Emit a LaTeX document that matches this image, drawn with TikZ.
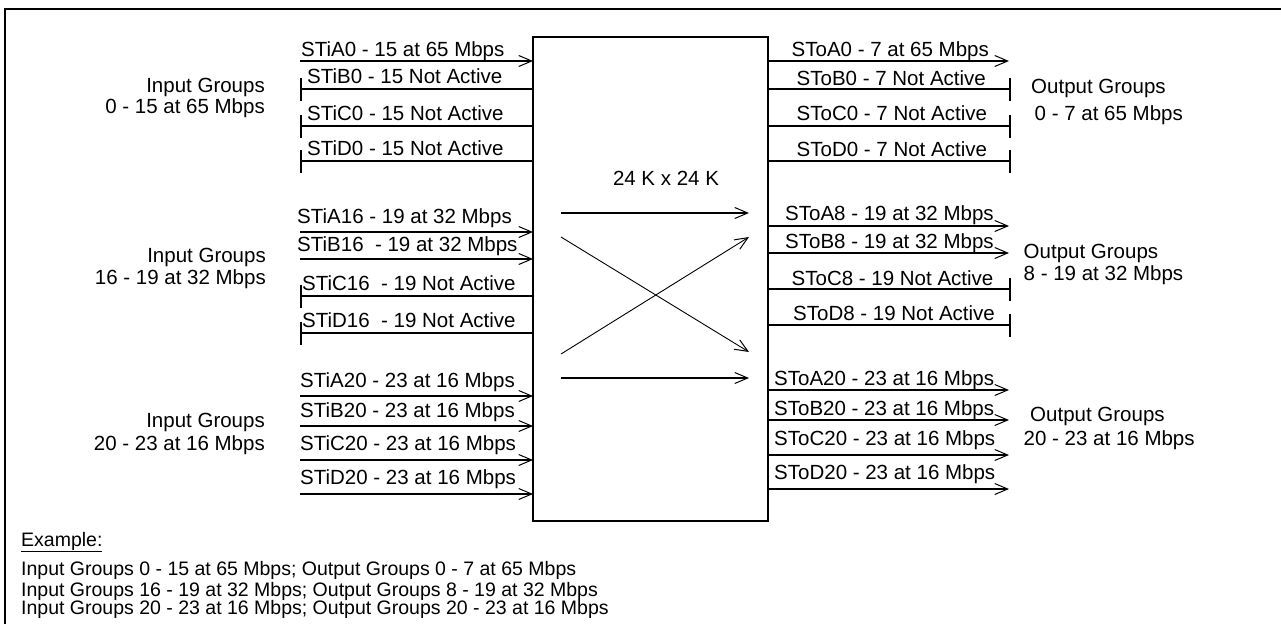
\documentclass[tikz,border=0pt]{standalone}
\usepackage{fontspec}
\setmainfont{Liberation Sans}
\usetikzlibrary{arrows.meta}
\begin{document}
\begin{tikzpicture}[x=1pt,y=-1pt,
  frameline/.style={line width=2pt},
  sig/.style={line width=1.6pt},
  arr/.style={sig,-{Straight Barb[length=13pt,width=11pt,line width=1pt]}},
  inarr/.style={line width=1.2pt,-{Straight Barb[length=13pt,width=11pt,line width=1pt]}},
  xarr/.style={line width=0.9pt,-{Straight Barb[length=13pt,width=11pt,line width=1pt]}},
  lbl/.style={font=\fontsize{20.5}{24}\selectfont,inner sep=0pt,anchor=base west},
  lbr/.style={font=\fontsize{20.5}{24}\selectfont,inner sep=0pt,anchor=base east},
  exl/.style={font=\fontsize{19.5}{22}\selectfont,inner sep=0pt,anchor=base west}]
\useasboundingbox (0,0) rectangle (1281,624);
% frame
\coordinate (fbl) at (5,624);
\coordinate (ftl) at (5,9);
\coordinate (ftr) at (1281,9);
\draw[frameline] (fbl) -- (ftl) -- (ftr);
% central box
\node[draw,line width=2pt,minimum width=235pt,minimum height=484pt,inner sep=0pt,outer sep=0pt] (box) at (650.5,279) {};
\node[lbl,anchor=base] (size) at (666,185.5) {24 K x 24 K};
% ---------------- inputs group 1
\coordinate (iA0) at (300,61);
\coordinate (iB0) at (301,89);
\coordinate (iC0) at (301,126);
\coordinate (iD0) at (301,161);
\draw[arr] (iA0) -- (iA0 -| box.west);
\draw[sig] (iB0) -- (iB0 -| box.west);
\draw[sig] (iC0) -- (iC0 -| box.west);
\draw[sig] (iD0) -- (iD0 -| box.west);
\draw[sig] ([yshift=11pt]iB0) -- ([yshift=-12pt]iB0);
\draw[sig] ([yshift=11pt]iC0) -- ([yshift=-12pt]iC0);
\draw[sig] ([yshift=11pt]iD0) -- ([yshift=-12pt]iD0);
\node[lbl] (tiA0) at (301,56) {STiA0 - 15 at 65 Mbps};
\node[lbl] (tiB0) at (307,83) {STiB0 - 15 Not Active};
\node[lbl] (tiC0) at (307,120) {STiC0 - 15 Not Active};
\node[lbl] (tiD0) at (307,155.5) {STiD0 - 15 Not Active};
\node[lbr] (ig1a) at (265,92) {Input Groups};
\node[lbr] (ig1b) at (265,113.5) {0 - 15 at 65 Mbps};
% ---------------- inputs group 2
\coordinate (iA16) at (300,232);
\coordinate (iB16) at (300,259);
\coordinate (iC16) at (301,296);
\coordinate (iD16) at (301,333);
\draw[arr] (iA16) -- (iA16 -| box.west);
\draw[arr] (iB16) -- (iB16 -| box.west);
\draw[sig] (iC16) -- (iC16 -| box.west);
\draw[sig] (iD16) -- (iD16 -| box.west);
\draw[sig] ([yshift=11pt]iC16) -- ([yshift=-12pt]iC16);
\draw[sig] ([yshift=11pt]iD16) -- ([yshift=-12pt]iD16);
\node[lbl] (tiA16) at (297,223) {STiA16 - 19 at 32 Mbps};
\node[lbl] (tiB16) at (297,251) {STiB16\ \ - 19 at 32 Mbps};
\node[lbl] (tiC16) at (302,290) {STiC16\ \ - 19 Not Active};
\node[lbl] (tiD16) at (302,327) {STiD16\ \ - 19 Not Active};
\node[lbr] (ig2a) at (266,262) {Input Groups};
\node[lbr] (ig2b) at (266,284.5) {16 - 19 at 32 Mbps};
% ---------------- inputs group 3
\coordinate (iA20) at (300,396);
\coordinate (iB20) at (300,426);
\coordinate (iC20) at (300,460);
\coordinate (iD20) at (300,494);
\draw[arr] (iA20) -- (iA20 -| box.west);
\draw[arr] (iB20) -- (iB20 -| box.west);
\draw[arr] (iC20) -- (iC20 -| box.west);
\draw[arr] (iD20) -- (iD20 -| box.west);
\node[lbl] (tiA20) at (300,387) {STiA20 - 23 at 16 Mbps};
\node[lbl] (tiB20) at (300,417) {STiB20 - 23 at 16 Mbps};
\node[lbl] (tiC20) at (300,450) {STiC20 - 23 at 16 Mbps};
\node[lbl] (tiD20) at (300,484) {STiD20 - 23 at 16 Mbps};
\node[lbr] (ig3a) at (265,427.5) {Input Groups};
\node[lbr] (ig3b) at (265,450) {20 - 23 at 16 Mbps};
% ---------------- outputs group 1
\coordinate (oA0) at (1009,61);
\coordinate (oB0) at (1010,89);
\coordinate (oC0) at (1010,126);
\coordinate (oD0) at (1010,161);
\draw[arr] (oA0 -| box.east) -- (oA0);
\draw[sig] (oB0 -| box.east) -- (oB0);
\draw[sig] (oC0 -| box.east) -- (oC0);
\draw[sig] (oD0 -| box.east) -- (oD0);
\draw[sig] ([yshift=11pt]oB0) -- ([yshift=-12pt]oB0);
\draw[sig] ([yshift=11pt]oC0) -- ([yshift=-12pt]oC0);
\draw[sig] ([yshift=11pt]oD0) -- ([yshift=-12pt]oD0);
\node[lbl] (toA0) at (791.5,56.5) {SToA0 - 7 at 65 Mbps};
\node[lbl] (toB0) at (796.5,85.5) {SToB0 - 7 Not Active};
\node[lbl] (toC0) at (796.5,120.5) {SToC0 - 7 Not Active};
\node[lbl] (toD0) at (796.5,156) {SToD0 - 7 Not Active};
\node[lbl] (og1a) at (1031,93.5) {Output Groups};
\node[lbl] (og1b) at (1034.5,120) {0 - 7 at 65 Mbps};
% ---------------- outputs group 2
\coordinate (oA8) at (1009,226);
\coordinate (oB8) at (1009,253);
\coordinate (oC8) at (1010,289);
\coordinate (oD8) at (1010,325);
\draw[arr] (oA8 -| box.east) -- (oA8);
\draw[arr] (oB8 -| box.east) -- (oB8);
\draw[sig] (oC8 -| box.east) -- (oC8);
\draw[sig] (oD8 -| box.east) -- (oD8);
\draw[sig] ([yshift=11pt]oC8) -- ([yshift=-12pt]oC8);
\draw[sig] ([yshift=11pt]oD8) -- ([yshift=-12pt]oD8);
\node[lbl] (toA8) at (785,220.5) {SToA8 - 19 at 32 Mbps};
\node[lbl] (toB8) at (785,248.5) {SToB8 - 19 at 32 Mbps};
\node[lbl] (toC8) at (791.5,285) {SToC8 - 19 Not Active};
\node[lbl] (toD8) at (793,320.5) {SToD8 - 19 Not Active};
\node[lbl] (og2a) at (1023.5,258.5) {Output Groups};
\node[lbl] (og2b) at (1023.5,280) {8 - 19 at 32 Mbps};
% ---------------- outputs group 3
\coordinate (oA20) at (1009,390);
\coordinate (oB20) at (1009,420);
\coordinate (oC20) at (1009,455);
\coordinate (oD20) at (1009,489);
\draw[arr] (oA20 -| box.east) -- (oA20);
\draw[arr] (oB20 -| box.east) -- (oB20);
\draw[arr] (oC20 -| box.east) -- (oC20);
\draw[arr] (oD20 -| box.east) -- (oD20);
\node[lbl] (toA20) at (774,385) {SToA20 - 23 at 16 Mbps};
\node[lbl] (toB20) at (774,415) {SToB20 - 23 at 16 Mbps};
\node[lbl] (toC20) at (774,445) {SToC20 - 23 at 16 Mbps};
\node[lbl] (toD20) at (774,479) {SToD20 - 23 at 16 Mbps};
\node[lbl] (og3a) at (1030,421.5) {Output Groups};
\node[lbl] (og3b) at (1023.5,445) {20 - 23 at 16 Mbps};
% ---------------- switching inside the box
\coordinate (s1) at (561,213);
\coordinate (e1) at (749,213);
\coordinate (s2) at (561,237);
\coordinate (e2) at (749,352);
\coordinate (s3) at (561,354);
\coordinate (e3) at (749,237);
\coordinate (s4) at (561,378);
\coordinate (e4) at (749,378);
\draw[inarr] (s1) -- (e1);
\draw[xarr] (s2) -- (e2);
\draw[xarr] (s3) -- (e3);
\draw[inarr] (s4) -- (e4);
% ---------------- example
\node[exl] (ex0) at (21,546) {\underline{Example:}};
\node[exl] (ex1) at (21,575) {Input Groups 0 - 15 at 65 Mbps; Output Groups 0 - 7 at 65 Mbps};
\node[exl] (ex2) at (21,596) {Input Groups 16 - 19 at 32 Mbps; Output Groups 8 - 19 at 32 Mbps};
\node[exl] (ex3) at (21,614) {Input Groups 20 - 23 at 16 Mbps; Output Groups 20 - 23 at 16 Mbps};
\end{tikzpicture}
\end{document}
